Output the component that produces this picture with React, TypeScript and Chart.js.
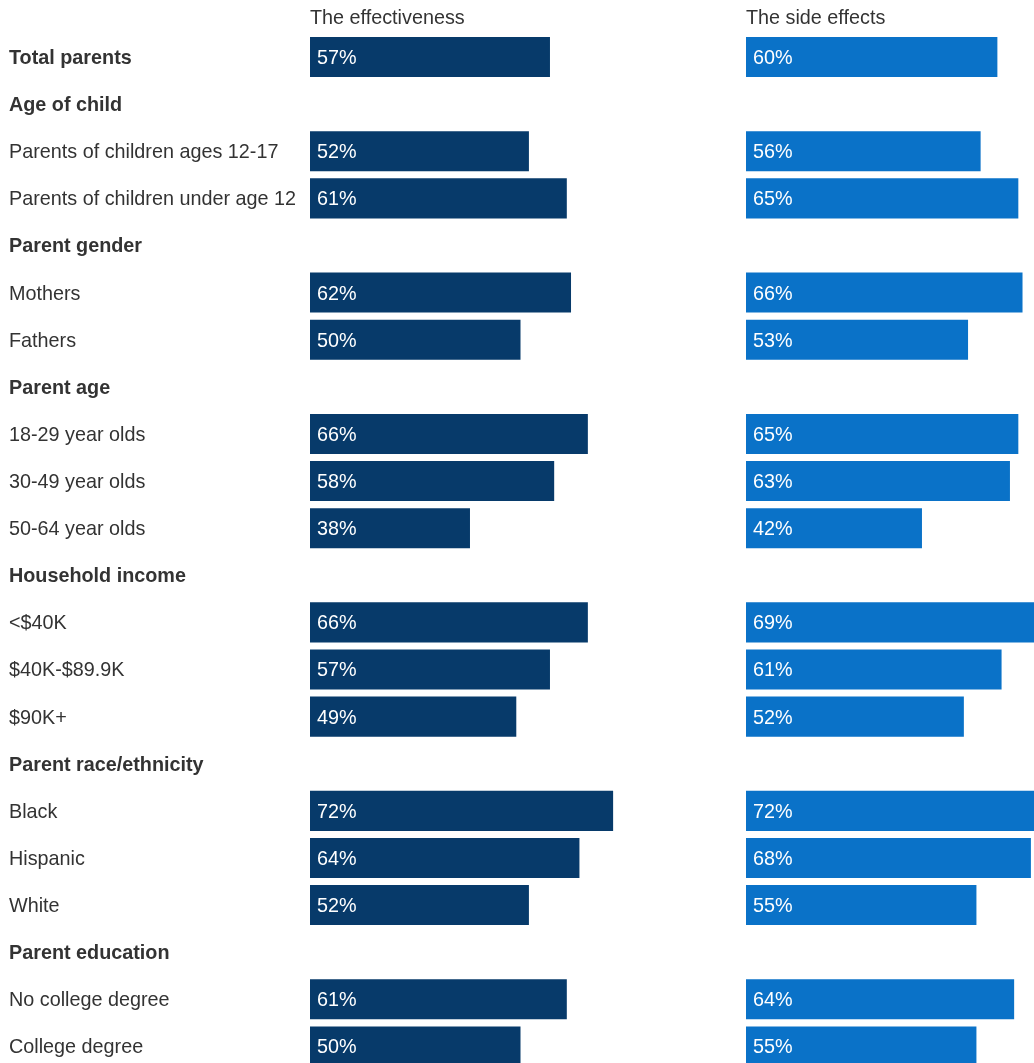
import React, { useEffect, useRef, useState } from 'react';
import { Chart, registerables } from 'chart.js';

Chart.register(...registerables);

const FONT = '"Liberation Sans", Arial, Helvetica, sans-serif';
const FONT_SIZE = 19.8;

const categories = [
  'Total parents',
  'Age of child',
  'Parents of children ages 12-17',
  'Parents of children under age 12',
  'Parent gender',
  'Mothers',
  'Fathers',
  'Parent age',
  '18-29 year olds',
  '30-49 year olds',
  '50-64 year olds',
  'Household income',
  '<$40K',
  '$40K-$89.9K',
  '$90K+',
  'Parent race/ethnicity',
  'Black',
  'Hispanic',
  'White',
  'Parent education',
  'No college degree',
  'College degree',
];

const boldRows = [0, 1, 4, 7, 11, 15, 19];

const effectiveness = [57, null, 52, 61, null, 62, 50, null, 66, 58, 38, null, 66, 57, 49, null, 72, 64, 52, null, 61, 50];
const sideEffects = [60, null, 56, 65, null, 66, 53, null, 65, 63, 42, null, 69, 61, 52, null, 72, 68, 55, null, 64, 55];

const panelTitles = ['The effectiveness', 'The side effects'];
const panelColors = ['#073a6a', '#0a72c8'];

const barLabelPlugin = {
  id: 'barLabels',
  afterDatasetsDraw(chart: any) {
    const ctx = chart.ctx;
    const meta = chart.getDatasetMeta(0);
    const data = chart.data.datasets[0].data;
    ctx.save();
    ctx.font = `${FONT_SIZE}px ${FONT}`;
    ctx.fillStyle = '#ffffff';
    ctx.textAlign = 'left';
    ctx.textBaseline = 'middle';
    meta.data.forEach((bar: any, i: number) => {
      const v = data[i];
      if (v == null) return;
      const { y, base } = bar.getProps(['y', 'base'], true);
      ctx.fillText(`${v}%`, base + 7, y + 1.5);
    });
    ctx.restore();
  },
};

type PanelProps = {
  values: (number | null)[];
  title: string;
  color: string;
  showLabels: boolean;
  left: number;
  width: number;
  xMax: number;
};

function Panel({ values, title, color, showLabels, left, width, xMax }: PanelProps) {
  const ref = useRef<HTMLCanvasElement | null>(null);
  const [err, setErr] = useState('');
  useEffect(() => {
    if (!ref.current) return;
    let chart: any = null;
    try {
      chart = new Chart(ref.current, {
        type: 'bar',
        data: {
          labels: categories,
          datasets: [
            {
              data: values as any,
              backgroundColor: color,
              borderWidth: 0,
              barPercentage: 0.85,
              categoryPercentage: 1,
            },
          ],
        },
        options: {
          indexAxis: 'y',
          animation: false,
          responsive: false,
          maintainAspectRatio: false,
          layout: { padding: { left: showLabels ? 9 : 0, top: 0, right: 0, bottom: 0 } },
          plugins: {
            legend: { display: false },
            tooltip: { enabled: false },
          },
          scales: {
            x: {
              position: 'top',
              min: 0,
              max: xMax,
              grid: { display: false },
              border: { display: false },
              ticks: { display: false },
              title: {
                display: true,
                text: title,
                align: 'start',
                color: '#333333',
                font: { family: FONT, size: FONT_SIZE, weight: 'normal' },
                padding: { top: 7, bottom: 0 },
              },
              afterFit: (scale: any) => {
                scale.height = 33.45;
              },
            },
            y: {
              display: true,
              grid: { display: false },
              border: { display: false },
              ticks: {
                display: showLabels,
                autoSkip: false,
                crossAlign: 'far',
                color: '#333333',
                padding: 0,
                labelOffset: 1.5,
                font: (ctx: any) => ({
                  family: FONT,
                  size: FONT_SIZE,
                  weight: boldRows.includes(ctx.index) ? 'bold' : 'normal',
                }),
              },
              afterFit: (scale: any) => {
                scale.width = showLabels ? 301 : 0;
                scale.paddingTop = 0;
                scale.paddingBottom = 0;
              },
            },
          },
        } as any,
        plugins: [barLabelPlugin],
      });
    } catch (e: any) {
      setErr(String(e && e.stack ? e.stack : e));
    }
    return () => {
      if (chart) chart.destroy();
    };
  }, [values, title, color, showLabels, xMax]);

  return (
    <>
      <canvas
        ref={ref}
        width={width}
        height={1070}
        style={{ position: 'absolute', left, top: 0, width, height: 1070 }}
      />
      {err ? (
        <pre style={{ position: 'absolute', left: 400, top: 200, fontSize: 10, color: 'red' }}>{err}</pre>
      ) : null}
    </>
  );
}

export default function App() {
  return (
    <div
      style={{
        position: 'absolute',
        left: 0,
        top: 0,
        width: 1034,
        height: 1063,
        overflow: 'hidden',
        background: '#ffffff',
      }}
    >
      <Panel
        values={effectiveness}
        title={panelTitles[0]}
        color={panelColors[0]}
        showLabels={true}
        left={0}
        width={731}
        xMax={100}
      />
      <Panel
        values={sideEffects}
        title={panelTitles[1]}
        color={panelColors[1]}
        showLabels={false}
        left={746}
        width={288}
        xMax={68.74}
      />
    </div>
  );
}
